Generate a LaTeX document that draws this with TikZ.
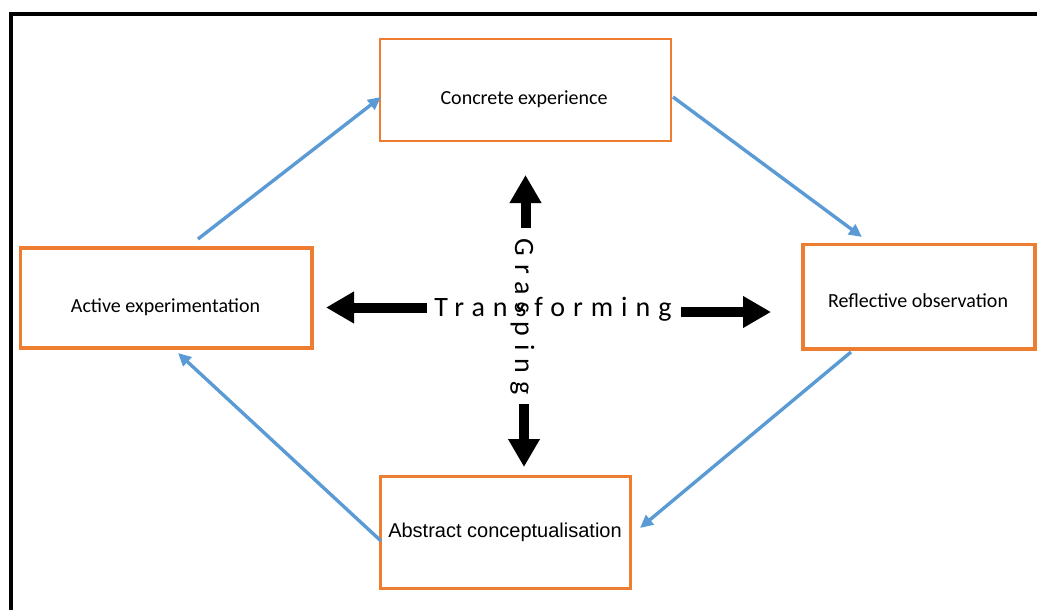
\documentclass[tikz,border=0pt]{standalone}
\usepackage{fontspec}
\setmainfont{Carlito}
\newfontfamily\arialfont{Liberation Sans}
\newfontfamily\spacedfont[LetterSpace=28.6]{Carlito}
\usetikzlibrary{arrows.meta}
\definecolor{boxorange}{HTML}{ED7D31}
\definecolor{flowblue}{HTML}{5B9BD5}
\begin{document}
\begin{tikzpicture}[x=1pt,y=-1pt,
  stagebox/.style={draw=boxorange, line width=3.2pt, inner sep=0pt},
  label20/.style={anchor=base, inner sep=0pt, font=\fontsize{20}{24}\selectfont},
  axislabel/.style={anchor=base, inner sep=0pt, font=\spacedfont\fontsize{28}{32}\selectfont},
  flow/.style={draw=flowblue, line width=3.4pt, -{Triangle[length=13pt,width=12pt]}},
  axis/.style={draw=black, line width=10pt, -{Triangle[length=28pt,width=30pt]}}]
  \useasboundingbox (0,0) rectangle (1037,610);
  \clip (0,0) rectangle (1037,610);
  % outer frame (runs off the page on the right and at the bottom)
  \draw[line width=3.5pt] (11,640) -- (11,14) -- (1060,14);

  % the four stages
  \node[stagebox, line width=2.6pt, minimum width=291pt, minimum height=102pt] (ce) at (525.5,90) {};
  \node[stagebox, line width=3.8pt, minimum width=232pt, minimum height=104.5pt] (ro) at (919,296.75) {};
  \node[stagebox, minimum width=291.5pt, minimum height=100pt] (ae) at (166.25,298) {};
  \node[stagebox, minimum width=250pt, minimum height=112pt] (ac) at (505.5,532.5) {};

  \node[label20] (cet) at (524,104) {Concrete experience};
  \node[label20] (rot) at (918,307) {Reflective observation};
  \node[label20] (aet) at (165.5,312) {Active experimentation};
  \node[label20, font=\arialfont\fontsize{20}{24}\selectfont] (act) at (505,537) {Abstract conceptualisation};

  % the two axes
  \node[axislabel] (tr) at (553,316) {Transforming};
  \node[axislabel, rotate=-90] (gr) at (515,316.5) {Grasping};

  \coordinate (trL) at (427,307.5);
  \coordinate (trLtip) at (326,307.5);
  \coordinate (trR) at (681,312);
  \coordinate (trRtip) at (771,312);
  \coordinate (grU) at (525.5,228);
  \coordinate (grUtip) at (525.5,175);
  \coordinate (grD) at (524,404);
  \coordinate (grDtip) at (524,467);
  \draw[axis] (trL) -- (trLtip);
  \draw[axis] (trR) -- (trRtip);
  \draw[axis] (grU) -- (grUtip);
  \draw[axis] (grD) -- (grDtip);

  % the learning cycle
  \coordinate (aeOut) at (198,239);
  \coordinate (ceIn) at (381,97);
  \coordinate (ceOut) at (673,97);
  \coordinate (roIn) at (862,237);
  \coordinate (roOut) at (851,352);
  \coordinate (acIn) at (640,528);
  \coordinate (acOut) at (381,541);
  \coordinate (aeIn) at (178,353);
  \draw[flow] (aeOut) -- (ceIn);
  \draw[flow] (ceOut) -- (roIn);
  \draw[flow] (roOut) -- (acIn);
  \draw[flow] (acOut) -- (aeIn);
\end{tikzpicture}
\end{document}
